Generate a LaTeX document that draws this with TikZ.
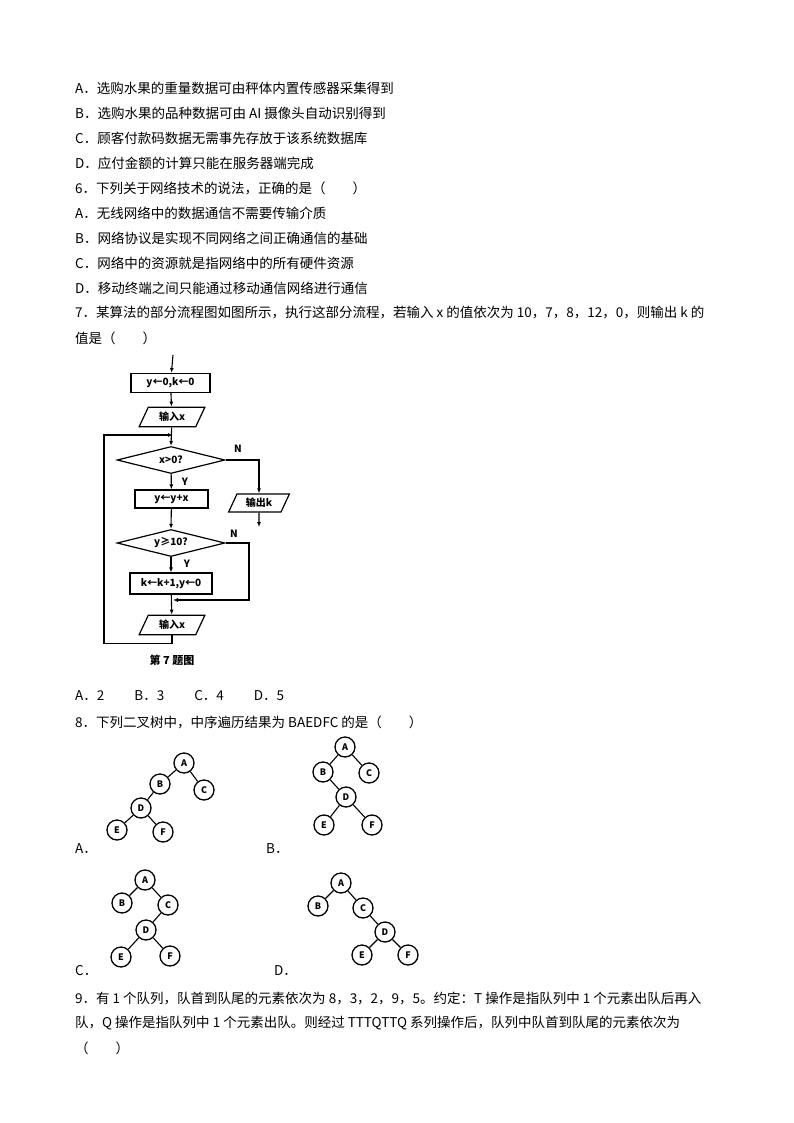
\documentclass[tikz,border=0pt]{standalone}
\usepackage{fontspec}
\setmainfont{Noto Sans CJK SC}
\usetikzlibrary{shapes.geometric,arrows.meta}
\begin{document}
\begin{tikzpicture}[x=1pt,y=-1pt,
  txt/.style={anchor=west,inner sep=0pt,font=\fontsize{13.5}{15}\selectfont},
  fbox/.style={draw,line width=1.2pt,minimum height=19pt,inner sep=1pt,font=\fontsize{10}{11}\selectfont\bfseries},
  para/.style={draw,line width=1.2pt,trapezium,trapezium left angle=65,trapezium right angle=115,minimum height=18pt,inner sep=1pt,font=\fontsize{10}{11}\selectfont\bfseries},
  dia/.style={draw,line width=1.2pt,diamond,aspect=4.2,inner sep=0pt,minimum width=108pt,minimum height=27pt,font=\fontsize{10}{11}\selectfont\bfseries},
  fl/.style={line width=1.1pt},
  ar/.style={line width=1.1pt,-{Latex[length=5pt,width=4pt]}},
  lb/.style={font=\fontsize{10}{11}\selectfont\bfseries,inner sep=0pt},
  tn/.style={circle,draw,line width=1.3pt,minimum size=20pt,inner sep=0pt,font=\fontsize{9}{10}\selectfont\bfseries},
  te/.style={line width=1.1pt}]
\useasboundingbox (0,0) rectangle (794,1123);
\node[txt] (t1) at (75,88) {A．选购水果的重量数据可由秤体内置传感器采集得到};
\node[txt] (t2) at (75,113) {B．选购水果的品种数据可由 AI 摄像头自动识别得到};
\node[txt] (t3) at (75,138) {C．顾客付款码数据无需事先存放于该系统数据库};
\node[txt] (t4) at (75,163) {D．应付金额的计算只能在服务器端完成};
\node[txt] (t5) at (75,188) {6．下列关于网络技术的说法，正确的是（　　）};
\node[txt] (t6) at (75,213) {A．无线网络中的数据通信不需要传输介质};
\node[txt] (t7) at (75,238) {B．网络协议是实现不同网络之间正确通信的基础};
\node[txt] (t8) at (75,263) {C．网络中的资源就是指网络中的所有硬件资源};
\node[txt] (t9) at (75,288) {D．移动终端之间只能通过移动通信网络进行通信};
\node[txt] (t10) at (75,313) {7．某算法的部分流程图如图所示，执行这部分流程，若输入 x 的值依次为 10，7，8，12，0，则输出 k 的};
\node[txt] (t11) at (75,338) {值是（　　）};
% flowchart
\coordinate (st) at (173,355);
\node[fbox,minimum width=79pt] (b1) at (170.5,383) {y←0,k←0};
\node[para,minimum width=66pt] (in1) at (172,417) {输入x};
\coordinate (j1) at (173,435);
\node[dia] (d1) at (171,460) {x>0?};
\node[fbox,minimum width=73pt,minimum height=18pt] (b2) at (171.5,499) {y←y+x};
\node[dia] (d2) at (171,543) {y≥10?};
\node[fbox,minimum width=82pt,minimum height=21pt] (b3) at (171,583.5) {k←k+1,y←0};
\node[para,minimum width=66pt] (in2) at (172,625) {输入x};
\node[para,minimum width=58pt] (out) at (259,503) {输出k};
\coordinate (e1) at (259,527);
\coordinate (j2) at (173,600);
\draw[ar] (st) -- (b1);
\draw[ar] (b1) -- (in1);
\draw[ar] (in1) -- (d1.north);
\draw[ar] (d1) -- (b2);
\draw[ar] (b2) -- (d2.north);
\draw[ar] (d2) -- (b3);
\draw[ar] (b3) -- (in2);
\draw[ar] (in2.south) -- ++(0,8) -| (104,435) -- (j1);
\draw[ar] (d1.east) -| (out.north);
\draw[ar] (out.south) -- (e1);
\draw[ar] (d2.east) -- (249,543) |- (j2);
\node[lb] (n1) at (238,449) {N};
\node[lb] (y1) at (185,482) {Y};
\node[lb] (n2) at (234,534) {N};
\node[lb] (y2) at (187,564) {Y};
\node[font=\fontsize{11}{12}\selectfont\bfseries] (cap) at (172,660) {第 7 题图};
\node[txt] (q7a) at (75,696) {A．2　　 B．3　　 C．4　　 D．5};
\node[txt] (q8) at (75,722) {8．下列二叉树中，中序遍历结果为 BAEDFC 的是（　　）};
% tree A
\node[tn] (aA) at (184,763) {A};
\node[tn] (aB) at (160,784) {B};
\node[tn] (aC) at (204,790) {C};
\node[tn] (aD) at (141,808) {D};
\node[tn] (aE) at (117,830) {E};
\node[tn] (aF) at (163,832) {F};
\draw[te] (aA)--(aB) (aA)--(aC) (aB)--(aD) (aD)--(aE) (aD)--(aF);
\node[txt] (la) at (75,849) {A．};
% tree B
\node[tn] (bA) at (345,747) {A};
\node[tn] (bB) at (323,772) {B};
\node[tn] (bC) at (369,773) {C};
\node[tn] (bD) at (346,797) {D};
\node[tn] (bE) at (324,825) {E};
\node[tn] (bF) at (372,825) {F};
\draw[te] (bA)--(bB) (bA)--(bC) (bB)--(bD) (bD)--(bE) (bD)--(bF);
\node[txt] (lb) at (266,849) {B．};
% tree C
\node[tn] (cA) at (145,880) {A};
\node[tn] (cB) at (122,903) {B};
\node[tn] (cC) at (168,905) {C};
\node[tn] (cD) at (146,930) {D};
\node[tn] (cE) at (121,957) {E};
\node[tn] (cF) at (170,956) {F};
\draw[te] (cA)--(cB) (cA)--(cC) (cC)--(cD) (cD)--(cE) (cD)--(cF);
\node[txt] (lc) at (75,971) {C．};
% tree D
\node[tn] (dA) at (341,883) {A};
\node[tn] (dB) at (318,906) {B};
\node[tn] (dC) at (363,908) {C};
\node[tn] (dD) at (385,932) {D};
\node[tn] (dE) at (362,955) {E};
\node[tn] (dF) at (408,955) {F};
\draw[te] (dA)--(dB) (dA)--(dC) (dC)--(dD) (dD)--(dE) (dD)--(dF);
\node[txt] (ld) at (274,971) {D．};
\node[txt] (q9a) at (75,998) {9．有 1 个队列，队首到队尾的元素依次为 8，3，2，9，5。约定：T 操作是指队列中 1 个元素出队后再入};
\node[txt] (q9b) at (75,1023) {队，Q 操作是指队列中 1 个元素出队。则经过 TTTQTTQ 系列操作后，队列中队首到队尾的元素依次为};
\node[txt] (q9c) at (75,1048) {（　　）};
\end{tikzpicture}
\end{document}
